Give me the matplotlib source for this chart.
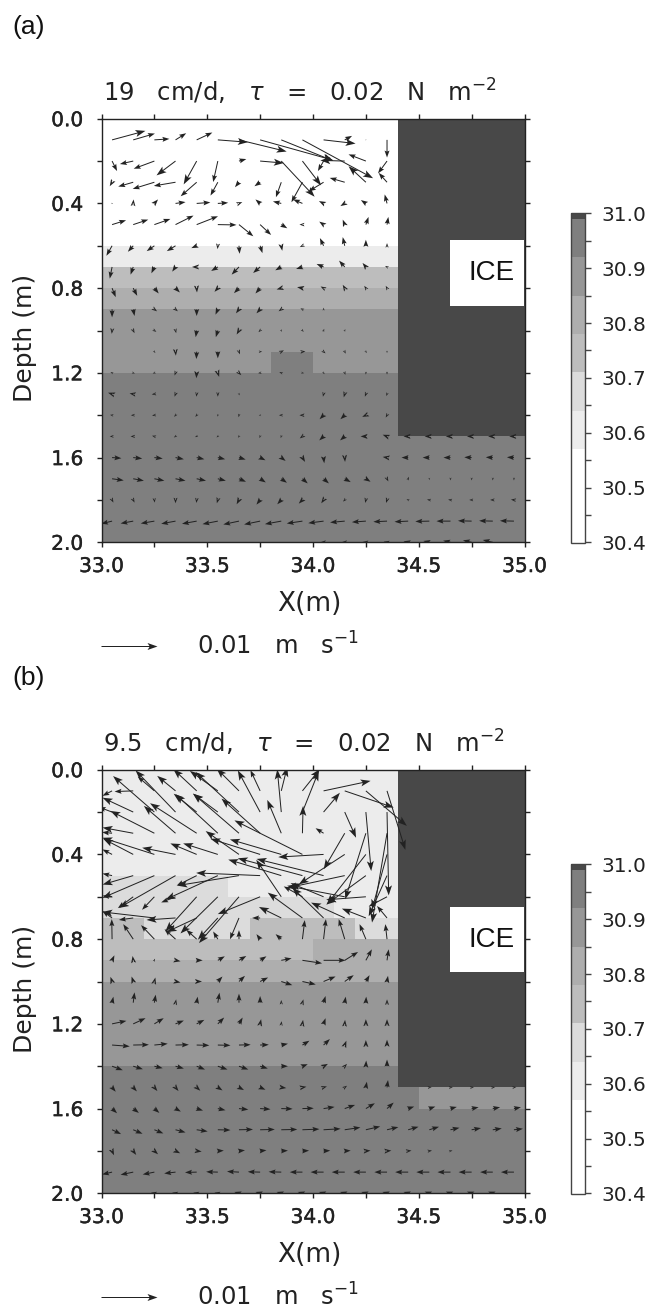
import numpy as np
import matplotlib
matplotlib.use('Agg')
import matplotlib.pyplot as plt
import matplotlib.patheffects as pe
from matplotlib.colors import ListedColormap, BoundaryNorm
from matplotlib.patches import Rectangle

W, H = 652, 1310

levels = [30.4, 30.57, 30.64, 30.71, 30.78, 30.85, 30.92, 30.99, 31.0]
shades = ['#ffffff', '#ececec', '#dcdcdc', '#bdbdbd', '#aeaeae', '#979797', '#7f7f7f', '#484848']
cbar_ticks = [30.4, 30.45, 30.5, 30.55, 30.6, 30.65, 30.7, 30.75, 30.8, 30.85, 30.9, 30.95, 31.0]
cbar_labels = ['30.4', '', '30.5', '', '30.6', '', '30.7', '', '30.8', '', '30.9', '', '31.0']

x_edges = [33.0 + 0.1 * i for i in range(21)]
z_edges = [0.1 * i for i in range(21)]
x_tail = [33.05 + 0.1 * i for i in range(20)]
z_tail = [0.1 * (i + 1) for i in range(20)]

# salinity class of each 0.1 m cell, top row first
ice = [31.0] * 6
sal_a = (
    [[30.5] * 14 + ice] * 6
    + [[30.6] * 14 + ice]
    + [[30.75] * 14 + ice]
    + [[30.82] * 14 + ice]
    + [[30.88] * 14 + ice] * 2
    + [[30.88] * 8 + [30.95] * 2 + [30.88] * 4 + ice]
    + [[30.95] * 14 + ice] * 3
    + [[30.95] * 20] * 5
)
sal_b = (
    [[30.6] * 14 + ice] * 5
    + [[30.67] * 6 + [30.6] * 8 + ice]
    + [[30.67] * 11 + [30.6] * 3 + ice]
    + [[30.75] * 2 + [30.67] * 5 + [30.75] * 5 + [30.67] * 2 + ice]
    + [[30.75] * 10 + [30.82] * 4 + ice]
    + [[30.82] * 14 + ice]
    + [[30.88] * 14 + ice] * 4
    + [[30.95] * 14 + ice]
    + [[30.95] * 15 + [30.88] * 5]
    + [[30.95] * 20] * 4
)

KEY_LEN = 168
u_a = [
    [100, 65, 45, 32, 47, 90, 143, 219, 156, 212, 96, 22, 2, 0],
    [15, -40, -62, -57, -39, -14, 22, 71, 100, 56, -17, -73, -52, -27],
    [-7, -45, -65, -65, -48, -22, -12, -17, -16, -33, -44, -45, -52, -25],
    [3, 1, 11, 30, 41, 31, 10, -14, -25, -28, -14, -13, -15, -7],
    [42, 45, 48, 54, 64, 56, 43, 33, 18, -9, -13, -6, 8, 4],
    [-17, -16, -23, -26, -16, -1, 2, 7, 3, -8, -11, -6, 0, 0],
    [-7, -8, -9, -10, -14, -20, -22, -21, -18, -19, -21, -17, -10, -6],
    [11, 12, 13, 13, 1, -10, -15, -14, -14, -16, -9, -6, -5, -4],
    [0, 4, 8, 7, 0, -7, -9, -11, -8, -6, 0, 0, 0, 0],
    [-1, 4, 6, 2, -3, -6, -7, -5, 2, 4, 2, 2, 0, 0],
    [0, 0, 3, 1, -1, 0, 3, 6, 8, 9, 6, 3, 3, 0],
    [-5, 5, -5, -3, -1, 4, 7, -6, -6, 5, 3, 2, 0, 0],
    [-12, -11, -8, -3, -1, 0, 2, 0, 0, 0, -2, -3, -3, -2],
    [-6, -7, -7, -4, -4, -2, -1, -4, -7, -9, -12, -13, -11, -4],
    [-7, -8, -7, -5, -5, -4, -3, -2, -2, -8, -13, -14, -16, -13, -14, -14, -14, -14, -14, -14],
    [28, 27, 25, 25, 23, 22, 20, 16, 13, 8, 2, 1, 0, -13, -20, -20, -21, -22, -21, -21],
    [35, 32, 30, 30, 28, 24, 21, 17, 17, 16, 16, 18, 14, 4, 2, 0, 0, 0, 0, 0],
    [4, 4, 1, 0, -1, -3, -7, -11, -12, -11, -7, -5, -2, -3, -5, -7, -7, -7, -8, -9],
    [-33, -38, -41, -43, -44, -46, -47, -48, -49, -47, -46, -44, -42, -41, -41, -42, -42, -41, -41, -42],
    [0, 0, 0, 0, 0, 0, 0, 0, 0, 0, -10, -10, -10, -10, -14, -18, -22, -26, -30, 0],
]
v_a = [
    [27, 19, 3, 20, 22, -7, -35, -61, -63, -115, -11, 12, 0, -53],
    [-30, -9, -23, -43, -70, -63, 6, -6, -107, -73, -30, 2, 20, -37],
    [-12, -13, -20, -11, -42, -40, -15, -12, -45, -60, -27, 13, 48, 28],
    [0, 12, 12, 4, 3, 2, 4, 12, 6, 12, 7, -8, 10, 27],
    [13, 15, 17, 27, 25, -1, -35, -31, -11, 0, 9, 15, 23, 23],
    [-30, -18, -16, -16, -7, -10, -24, -22, -15, -4, 23, 26, 18, 8],
    [-35, -23, -19, -14, 0, -12, -23, -18, -10, -6, 9, 19, 12, 3],
    [-27, -23, -16, -13, -13, -11, -15, -16, -4, 3, 5, 10, 7, 7],
    [-24, -20, -6, -6, -20, -16, -12, -12, -6, 3, 5, 0, 0, 0],
    [-10, -8, -4, -8, -20, -20, -12, -5, -4, -4, 5, 4, 0, 0],
    [0, 0, -4, -12, -22, -20, -8, 0, 4, 1, -5, -6, -4, -4],
    [2, -2, -2, -8, -16, -12, -7, -1, 2, -1, -4, -6, -5, -5],
    [4, 2, -1, -8, -8, -8, -4, 0, 0, 0, -8, -10, -8, -6],
    [1, 0, -1, -5, -5, -4, -6, 0, 0, 0, -12, -12, -5, -7],
    [0, 0, 2, -3, -2, -3, -4, -5, -5, -6, -12, -12, 0, 5, 0, 0, 0, 0, 0, 0],
    [-2, -3, -3, -5, -5, -5, -6, -8, -10, -13, -17, -13, 0, 2, 0, 0, 0, 1, 1, 1],
    [-5, -6, -6, -6, -6, -6, -9, -11, -12, -14, -14, -10, -9, -8, 6, -4, -5, -5, -5, -5],
    [-8, -8, -8, -10, -9, -10, -13, -14, -13, -11, -10, -5, -9, -9, 2, 1, 1, 0, 0, 1],
    [-8, -7, -7, -8, -8, -9, -10, -10, -9, -7, -6, -4, -3, -2, -2, -1, 0, 1, 1, 1],
    [0, 0, 0, 0, 0, 0, 0, 0, 0, 0, 0, 0, 1, 2, 3, 4, 5, 6, 7, 0],
]
u_b = [
    [-29, -56, -50, -55, -70, -84, -67, -29, 18, 52, 141, 147, 123, 55],
    [-40, -92, -124, -120, -69, -74, -130, -67, -12, 49, 49, 34, 16, 5],
    [-30, -92, -132, -95, -140, -127, -138, -116, -42, 2, -24, -63, -62, -45],
    [-29, -90, -156, -100, -79, -104, -100, -149, -154, -204, -136, -138, -117, -45],
    [-29, -92, -156, -170, -60, -157, -185, -192, -159, -194, -201, -173, -119, -55],
    [-29, -46, -37, -43, -94, -112, -120, -127, -75, -56, -99, -173, -119, -55],
    [-29, -43, -156, -87, -90, -60, -27, -24, -67, -104, -94, -101, -72, -30],
    [-1, -30, -40, -33, -31, -14, 0, -11, -17, 7, 7, -18, -19, -5],
    [7, -2, 2, 15, 18, 21, 22, 19, 31, 59, 66, 40, 18, 5],
    [-5, -5, 3, 15, 16, 14, 18, 24, 33, 40, 36, 27, 11, 3],
    [4, 4, 4, 2, 3, 5, 0, 0, 0, 3, 6, 3, 1, 0],
    [43, 37, 28, 25, 23, 19, 11, 3, 1, 2, 6, 1, 0, 0],
    [53, 47, 40, 40, 38, 38, 35, 26, 20, 21, 19, 5, 0, 0],
    [32, 29, 25, 25, 25, 29, 28, 23, 20, 16, 13, 7, 1, 0],
    [11, 11, 9, 9, 11, 14, 15, 16, 15, 12, 10, 7, 3, 3, 0, 7, 7, 7, 7, 7],
    [15, 17, 15, 16, 19, 23, 28, 31, 34, 34, 33, 31, 27, 20, 18, 18, 19, 21, 22, 21],
    [27, 28, 27, 30, 33, 38, 42, 44, 48, 51, 51, 47, 43, 34, 31, 29, 27, 28, 27, 27],
    [6, 9, 11, 14, 15, 18, 18, 19, 20, 20, 20, 18, 14, 13, 10, 8, 6, 0, 0, 0],
    [-30, -38, -35, -34, -35, -35, -36, -37, -38, -38, -39, -39, -38, -38, -39, -39, -39, -39, -38, -39],
    [0, 0, -10, -10, -10, -10, -14, -14, -14, -14, -14, -14, -14, -14, -14, -14, -14, -14, -14, 0],
]
v_b = [
    [-15, -2, 43, 45, 65, 60, 67, 62, 72, 65, 30, -50, -105, -177],
    [15, 43, 108, 125, 55, 55, 120, 125, 128, 123, 58, -77, -177, -250],
    [3, 17, 67, 82, 90, 117, 119, 104, 100, 82, 15, -108, -198, -268],
    [15, 47, 50, 20, 33, 33, 70, 47, 45, 102, -8, -90, -150, -165],
    [6, -27, -67, -97, -30, -72, -30, 8, 48, 52, 50, -37, -87, -122],
    [3, -34, -39, -17, -104, -110, -139, -52, 111, 31, 41, 33, -9, -29],
    [21, -6, 18, -6, -42, -65, -64, 0, 33, 76, 91, 46, 28, 36],
    [60, 45, 42, 30, 28, 23, 27, 15, 15, 57, 60, 60, 45, 45],
    [15, 13, 5, -3, 0, 12, 13, 12, 6, -9, 0, 25, 33, 33],
    [14, 15, 12, -3, 0, 15, 17, 12, -11, -9, 15, 19, 19, 17],
    [18, 31, 24, 10, 18, 30, 27, 20, 8, 10, 20, 18, 18, 10],
    [9, 17, 17, 10, 12, 19, 19, 14, 8, 12, 17, 12, 14, 14],
    [-4, 1, 4, 1, -1, -1, 1, 1, 4, 13, 18, 13, 15, 16],
    [-12, -9, -6, -7, -10, -10, -10, -7, 0, 6, 7, 7, 17, 20],
    [-13, -12, -11, -11, -10, -9, -8, -7, -2, 2, 3, 5, 17, 22, 0, 1, 1, 1, 1, 1],
    [-14, -13, -13, -9, -6, -5, -3, -2, -1, 1, 5, 11, 16, 18, 6, 6, 5, 4, 4, 4],
    [-13, -12, -11, -8, -5, -1, 1, 1, 1, 2, 3, 7, 10, 8, 9, 9, 6, 5, 4, 3],
    [-13, -12, -10, -7, -2, 1, 2, 2, 1, 1, 1, 1, 1, 1, 1, 1, 1, 0, 0, 0],
    [-7, -8, -7, -4, -1, 1, 2, 1, 1, 0, 0, 0, 0, 0, 0, 0, 0, 0, 0, 0],
    [0, 0, 2, 2, 2, 2, 4, 4, 4, 4, 4, 4, 4, 4, 4, 5, 5, 5, 5, 0],
]


def pad(rows):
    # rows above the ice only have 14 columns
    return np.array([list(r) + [0] * (20 - len(r)) for r in rows], dtype=float)


def box(left, top, right, bottom):
    return [left / W, 1 - bottom / H, (right - left) / W, (bottom - top) / H]


def draw_panel(fig, dy, sal, u, v, tag, title, ice_top, ice_bot):
    ink = '#222222'
    cmap = ListedColormap(shades)
    norm = BoundaryNorm(levels, cmap.N, clip=True)

    ax = fig.add_axes(box(101.5, 118.7 + dy, 524.5, 542.3 + dy))
    mesh = ax.pcolormesh(x_edges, z_edges, np.array(sal), cmap=cmap, norm=norm, shading='flat')
    ax.set_xlim(33, 35)
    ax.set_ylim(2, 0)

    ax.add_patch(Rectangle((34.65, ice_top), 0.35, ice_bot - ice_top, fc='white', ec='none', zorder=2))
    ax.text(34.845, (ice_top + ice_bot) / 2, 'ICE', family='Liberation Sans', fontsize=20,
            color='#111111', ha='center', va='center', zorder=3)

    uu, vv = pad(u), pad(v)
    xx, zz = np.meshgrid(x_tail, z_tail)
    speed = np.hypot(uu, vv)
    small = (speed > 0) & (speed < 70)
    large = speed >= 70
    # KEY_LEN reads as 0.01 m/s, key arrow is 56 px long
    sc = 0.01 / 56
    to_ms = 0.01 / KEY_LEN
    ax.quiver(xx[small], zz[small], uu[small] * to_ms, vv[small] * to_ms,
              units='dots', angles='uv', scale_units='dots', scale=sc, pivot='tail',
              width=1.0, headwidth=5, headlength=7, headaxislength=6, minshaft=0.6, minlength=0.3,
              color=ink, zorder=4)
    q = ax.quiver(xx[large], zz[large], uu[large] * to_ms, vv[large] * to_ms,
                  units='dots', angles='uv', scale_units='dots', scale=sc, pivot='tail',
                  width=1.0, headwidth=7, headlength=10, headaxislength=8, minshaft=1,
                  color=ink, zorder=4)

    ax.set_xticks([33.0, 33.25, 33.5, 33.75, 34.0, 34.25, 34.5, 34.75, 35.0])
    ax.set_xticklabels(['33.0', '', '33.5', '', '34.0', '', '34.5', '', '35.0'])
    ax.set_yticks([0.0, 0.2, 0.4, 0.6, 0.8, 1.0, 1.2, 1.4, 1.6, 1.8, 2.0])
    ax.set_yticklabels(['0.0', '', '0.4', '', '0.8', '', '1.2', '', '1.6', '', '2.0'])
    ax.tick_params(top=True, right=True, direction='out', length=3.6, width=1, color=ink,
                   labelcolor=ink, labelsize=14.5)
    ax.tick_params(axis='x', pad=7)
    ax.tick_params(axis='y', pad=9.5)
    for lab in ax.get_xticklabels() + ax.get_yticklabels():
        lab.set_path_effects([pe.withStroke(linewidth=0.3, foreground=ink)])
    for sp in ax.spines.values():
        sp.set_linewidth(1)
        sp.set_color(ink)

    fig.text(309 / W, 1 - (611 + dy) / H, 'X(m)', fontsize=19, color=ink, ha='center', va='baseline')
    fig.text(25 / W, 1 - (338 + dy) / H, 'Depth (m)', fontsize=18, color=ink, rotation=90,
             ha='center', va='center')
    fig.text(103 / W, 1 - (102 + dy) / H, title, fontsize=17.5, color=ink, ha='left', va='baseline')
    fig.text(12 / W, 1 - (27 + dy) / H, tag, family='Liberation Sans', fontsize=19, color='#111111',
             ha='left', va='center')

    ax.quiverkey(q, 129 / W, 1 - (646 + dy) / H, 0.01, '', coordinates='figure', labelsep=0,
                 color=ink)
    fig.text(197 / W, 1 - (655 + dy) / H, r'0.01   m   s$^{-1}$', fontsize=17.5, color=ink,
             ha='left', va='baseline')

    cax = fig.add_axes(box(571.3, 213.3 + dy, 585, 542.5 + dy))
    cb = fig.colorbar(mesh, cax=cax, spacing='proportional', drawedges=False)
    cb.set_ticks(cbar_ticks)
    cb.set_ticklabels(cbar_labels)
    cb.minorticks_off()
    cax.tick_params(direction='out', length=4, width=1, color='#444444', labelcolor=ink,
                    labelsize=14.5, pad=8)
    cb.outline.set_linewidth(1)
    cb.outline.set_edgecolor('#444444')


fig = plt.figure(figsize=(W / 100, H / 100), dpi=100)
draw_panel(fig, 0, sal_a, u_a, v_a, '(a)', r'19   cm/d,   $\tau$   =   0.02   N   m$^{-2}$', 0.575, 0.885)
draw_panel(fig, 651, sal_b, u_b, v_b, '(b)', r'9.5   cm/d,   $\tau$   =   0.02   N   m$^{-2}$', 0.65, 0.955)
fig.savefig('out.png', dpi=100)
